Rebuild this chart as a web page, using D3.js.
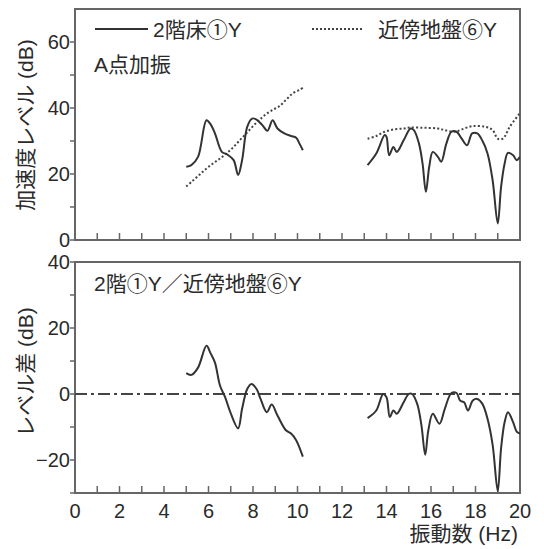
<!DOCTYPE html>
<html>
<head>
<meta charset="utf-8">
<script src="https://cdn.jsdelivr.net/npm/d3@7"></script>
<style>
  html, body { margin: 0; padding: 0; background: #fff; }
  svg text { font-family: "Liberation Sans", Arial, "Noto Sans CJK JP", sans-serif; fill: #2a2a2a; }
</style>
</head>
<body>
<svg id="chart" width="544" height="549"></svg>
<script>
// Frequency axis (Hz)
const xTickLabels = [0, 2, 4, 6, 8, 10, 12, 14, 16, 18, 20];

// Upper panel: acceleration level (dB)
const levelTicks = [0, 20, 40, 60];
// 2nd-floor ① Y, 5–10 Hz band
const floorLowHz = [5.0, 5.23, 5.53, 5.91, 6.09, 6.29, 6.6, 6.82, 7.13, 7.33, 7.51, 7.74, 7.96, 8.16, 8.42, 8.65, 8.88, 9.1, 9.41, 9.71, 9.94, 10.09, 10.24];
const floorLowDb = [22.2, 22.7, 25.2, 36.3, 35.1, 32.3, 26.7, 26, 24.2, 19.7, 24.2, 34.3, 36.8, 36.5, 34.8, 33.1, 36.3, 33.8, 32.3, 31.5, 31, 29.2, 27.2];
// 2nd-floor ① Y, 13–20 Hz band
const floorHighHz = [13.15, 13.54, 13.92, 14.0, 14.12, 14.31, 14.46, 14.77, 15.08, 15.23, 15.46, 15.62, 15.77, 15.92, 16.08, 16.31, 16.46, 16.69, 16.92, 17.15, 17.38, 17.62, 17.85, 18.08, 18.3, 18.54, 18.77, 19.0, 19.15, 19.31, 19.46, 19.69, 19.85, 20.0];
const floorHighDb = [22.7, 26.2, 31.8, 31.3, 25.7, 28.2, 26.7, 30.2, 33.8, 33.3, 29.2, 23.2, 14.6, 22.2, 26.7, 25.2, 23.7, 29.2, 32.8, 32.8, 30.7, 28.7, 32.3, 32.3, 30.2, 26.2, 18.1, 5.0, 16.1, 23.2, 26.4, 25.7, 24.2, 25.2];
// Nearby ground ⑥ Y, 5–10 Hz band
const groundLowHz = [5.0, 5.3, 5.6, 5.9, 6.2, 6.5, 6.8, 7.1, 7.4, 7.7, 8.0, 8.3, 8.6, 8.9, 9.2, 9.5, 9.8, 10.1, 10.25];
const groundLowDb = [16.2, 18.0, 19.8, 21.6, 23.2, 24.6, 26.2, 28.0, 30.2, 32.3, 34.5, 36.5, 38.2, 39.5, 40.6, 42.6, 44.5, 45.5, 46.2];
// Nearby ground ⑥ Y, 13–20 Hz band
const groundHighHz = [13.15, 13.54, 13.92, 14.31, 14.77, 15.08, 15.7, 16.31, 16.62, 17.08, 17.38, 17.85, 18.46, 18.77, 19.0, 19.23, 19.54, 20.0];
const groundHighDb = [30.7, 31.5, 32.8, 33.5, 33.8, 34.1, 34.0, 33.8, 33.3, 32.8, 33.5, 34.5, 34.3, 33.3, 30.7, 30.7, 34.3, 38.5];

// Lower panel: level difference (dB)
const diffTicks = [-20, 0, 20, 40];
const diffLowHz = [5.0, 5.23, 5.53, 5.91, 6.09, 6.29, 6.52, 6.75, 6.98, 7.33, 7.51, 7.74, 7.93, 8.16, 8.34, 8.62, 8.84, 9.1, 9.48, 9.71, 9.94, 10.24];
const diffLowDb = [6.3, 5.8, 8.0, 14.6, 12.4, 9.5, 2.5, -1, -5.5, -10.4, -4.5, 1.5, 3.0, 1.5, -1.5, -5.5, -3.2, -6.5, -11, -12, -14, -19];
const diffHighHz = [13.15, 13.54, 13.85, 14.0, 14.15, 14.31, 14.46, 14.77, 15.0, 15.15, 15.38, 15.57, 15.74, 15.88, 16.08, 16.38, 16.62, 16.92, 17.15, 17.31, 17.49, 17.66, 17.88, 18.08, 18.31, 18.54, 18.77, 19.0, 19.15, 19.31, 19.46, 19.69, 19.85, 20.0];
const diffHighDb = [-7.3, -5.0, 0, -1, -7, -5, -6, -2.5, 0, 0, -3, -9.5, -18.4, -11, -6, -9, -4.5, 0.3, 0.3, -2, -2.5, -5, -2, -1.5, -3, -7.5, -15.4, -29.4, -16.4, -8.5, -5.5, -8.5, -11.4, -12];

const svg = d3.select("#chart");
const lineColor = "#333";
const frameColor = "#666";
const labelSize = 21;
const tickSize = 20;

const x = d3.scaleLinear().domain([0, 20]).range([75, 520]);
const yTop = d3.scaleLinear().domain([0, 70]).range([240, 9]);
const yBot = d3.scaleLinear().domain([-30, 40]).range([493, 262]);

const zip = (xs, ys) => xs.map((v, i) => [v, ys[i]]);

function panel(y, ticks, minorTicks, clipId) {
  const g = svg.append("g");
  const [y0, y1] = y.range();
  g.append("defs").append("clipPath").attr("id", clipId)
    .append("rect").attr("x", x(0)).attr("y", y1).attr("width", x(20) - x(0)).attr("height", y0 - y1);
  // inner frequency ticks
  g.selectAll(".xt").data(d3.range(1, 20)).join("line")
    .attr("x1", d => x(d)).attr("x2", d => x(d))
    .attr("y1", y0).attr("y2", y0 - 7)
    .attr("stroke", frameColor).attr("stroke-width", 1.5);
  // outer level ticks
  g.selectAll(".yt").data(minorTicks).join("line")
    .attr("x1", x(0) - 5).attr("x2", x(0))
    .attr("y1", d => y(d)).attr("y2", d => y(d))
    .attr("stroke", frameColor).attr("stroke-width", 1.5);
  g.selectAll(".yl").data(ticks).join("text")
    .attr("x", x(0) - 5).attr("y", d => y(d)).attr("dy", "0.36em")
    .attr("text-anchor", "end").attr("font-size", tickSize)
    .text(d => d < 0 ? "\u2212" + Math.abs(d) : d);
  g.append("rect")
    .attr("x", x(0)).attr("y", y1).attr("width", x(20) - x(0)).attr("height", y0 - y1)
    .attr("fill", "none").attr("stroke", frameColor).attr("stroke-width", 2);
  return g;
}

const gTop = panel(yTop, levelTicks, d3.range(0, 70, 10), "clipTop");
const gBot = panel(yBot, diffTicks, d3.range(-30, 41, 10), "clipBot");

const lineTop = d3.line().x(d => x(d[0])).y(d => yTop(d[1])).curve(d3.curveCatmullRom.alpha(0.5));
const lineBot = d3.line().x(d => x(d[0])).y(d => yBot(d[1])).curve(d3.curveCatmullRom.alpha(0.5));

const curvesTop = gTop.append("g").attr("clip-path", "url(#clipTop)");
[[groundLowHz, groundLowDb], [groundHighHz, groundHighDb]].forEach(([h, v]) => {
  curvesTop.append("path").attr("d", lineTop(zip(h, v)))
    .attr("fill", "none").attr("stroke", "#444").attr("stroke-width", 2)
    .attr("stroke-dasharray", "2,2.2");
});
[[floorLowHz, floorLowDb], [floorHighHz, floorHighDb]].forEach(([h, v]) => {
  curvesTop.append("path").attr("d", lineTop(zip(h, v)))
    .attr("fill", "none").attr("stroke", lineColor).attr("stroke-width", 2);
});

const curvesBot = gBot.append("g").attr("clip-path", "url(#clipBot)");
curvesBot.append("line")
  .attr("x1", x(0)).attr("x2", x(20)).attr("y1", yBot(0)).attr("y2", yBot(0))
  .attr("stroke", "#444").attr("stroke-width", 2).attr("stroke-dasharray", "12,4,3,4");
[[diffLowHz, diffLowDb], [diffHighHz, diffHighDb]].forEach(([h, v]) => {
  curvesBot.append("path").attr("d", lineBot(zip(h, v)))
    .attr("fill", "none").attr("stroke", lineColor).attr("stroke-width", 2);
});

// frequency labels under the lower panel
svg.selectAll(".xl").data(xTickLabels).join("text")
  .attr("x", d => x(d)).attr("y", 518)
  .attr("text-anchor", "middle").attr("font-size", tickSize)
  .text(d => d);

// legend and captions
svg.append("line").attr("x1", 95).attr("x2", 148).attr("y1", 29).attr("y2", 29)
  .attr("stroke", lineColor).attr("stroke-width", 1.8);
svg.append("text").attr("x", 153).attr("y", 37).attr("font-size", labelSize).text("2階床①Y");
svg.append("line").attr("x1", 312).attr("x2", 362).attr("y1", 29).attr("y2", 29)
  .attr("stroke", "#444").attr("stroke-width", 1.8).attr("stroke-dasharray", "2,2");
svg.append("text").attr("x", 378).attr("y", 37).attr("font-size", labelSize).text("近傍地盤⑥Y");
svg.append("text").attr("x", 94).attr("y", 72).attr("font-size", labelSize).text("A点加振");
svg.append("text").attr("x", 94).attr("y", 291).attr("font-size", labelSize).text("2階①Y／近傍地盤⑥Y");

svg.append("text").attr("transform", "translate(33,125) rotate(-90)")
  .attr("text-anchor", "middle").attr("font-size", labelSize).text("加速度レベル (dB)");
svg.append("text").attr("transform", "translate(33,372) rotate(-90)")
  .attr("text-anchor", "middle").attr("font-size", labelSize).text("レベル差 (dB)");
svg.append("text").attr("x", 518).attr("y", 541)
  .attr("text-anchor", "end").attr("font-size", labelSize).text("振動数 (Hz)");
</script>
</body>
</html>
